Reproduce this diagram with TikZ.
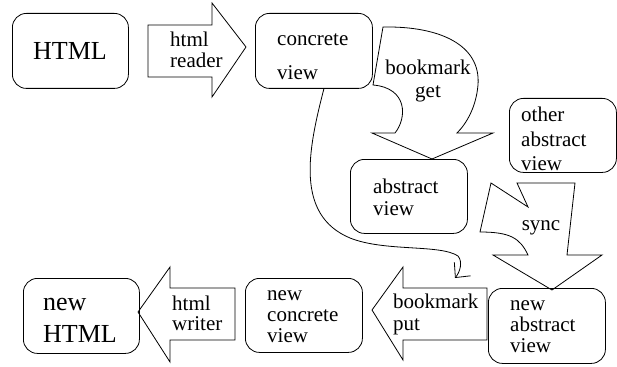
\documentclass[tikz,border=0pt]{standalone}
\usepackage{fontspec}
\setmainfont{Liberation Serif}
\usetikzlibrary{arrows.meta}
\tikzset{
  box/.style={draw, line width=0.8pt, rounded corners=14pt, inner sep=0pt, anchor=north west},
  blockarrow/.style={draw, line width=0.8pt, line join=miter},
  txt/.style={inner sep=0pt, align=left, anchor=base west, font=\rmfamily\fontsize{21}{21}\selectfont},
  bigtxt/.style={inner sep=0pt, align=left, anchor=base west, font=\rmfamily\fontsize{26}{32}\selectfont},
  link/.style={draw, line width=0.8pt, arrows={-Straight Barb[length=11pt,width=21pt,arc=80]}}
}
\begin{document}
\begin{tikzpicture}[x=1pt,y=-1pt]
\useasboundingbox (0,0) rectangle (617,366);

% boxes
\node[box, minimum width=116pt, minimum height=75pt] (html) at (12,13) {};
\node[box, minimum width=117pt, minimum height=75pt] (cv) at (255,13) {};
\node[box, minimum width=107pt, minimum height=74pt] (oav) at (509,98) {};
\node[box, minimum width=117pt, minimum height=74pt] (av) at (350,159) {};
\node[box, minimum width=117pt, minimum height=75pt] (nav) at (488,288) {};
\node[box, minimum width=117pt, minimum height=74pt] (ncv) at (245,278) {};
\node[box, minimum width=116pt, minimum height=75pt] (nhtml) at (23,278) {};

% box texts (anchored at the baseline of the last line)
\node[bigtxt, anchor=base] (htmlt) at (70,60) {HTML};
\node[txt, font=\rmfamily\fontsize{21}{34}\selectfont] (cvt) at (277,80) {concrete\\view};
\node[txt, font=\rmfamily\fontsize{21}{24}\selectfont] (oavt) at (521,170) {other\\abstract\\view};
\node[txt, font=\rmfamily\fontsize{21}{22}\selectfont] (avt) at (373,215) {abstract\\view};
\node[txt] (navt) at (510,352) {new\\abstract\\view};
\node[txt] (ncvt) at (267,342) {new\\concrete\\view};
\node[bigtxt] (nhtmlt) at (43,342) {new\\HTML};

% html reader arrow
\path[blockarrow] (148,25) -- (212,25) -- (212,3) -- (246,47) -- (212,97) -- (212,77) -- (148,77) -- cycle;
\node[txt] (reader) at (170,68) {html\\reader};

% bookmark get arrow
\path[blockarrow] (383,27) .. controls (440,26) and (481,45) .. (478,85)
  .. controls (476,108) and (466,124) .. (457,133) -- (493,133) -- (432,159) -- (372,133) -- (395,133)
  .. controls (407,118) and (408,88) .. (373,85) -- cycle;
\node[txt, align=center, anchor=base, font=\rmfamily\fontsize{21}{23}\selectfont] (bget) at (428,98) {bookmark\\get};

% sync arrow
\path[blockarrow] (491,183) -- (528,207) -- (517,183) -- (575,183) -- (567,255) -- (602,255) -- (552,290) -- (493,255) -- (528,255)
  .. controls (520,238) and (510,232) .. (480,232) -- cycle;
\node[txt, anchor=base] (sync) at (541,230) {sync};

% bookmark put arrow
\path[blockarrow] (487,288) -- (403,288) -- (403,267) -- (372,310) -- (403,360) -- (403,340) -- (487,340) -- cycle;
\node[txt, font=\rmfamily\fontsize{21}{22}\selectfont] (bput) at (393,330) {bookmark\\put};

% html writer arrow
\path[blockarrow] (235,288) -- (170,288) -- (170,267) -- (138,312) -- (170,362) -- (170,340) -- (235,340) -- cycle;
\node[txt, font=\rmfamily\fontsize{21}{20}\selectfont] (writer) at (172,330) {html\\writer};

% curved connector
\coordinate (tipend) at (455,278);
\draw[link] (cv.south) ++(10,0) coordinate (cvs) (cvs)
  .. controls (308,150) and (295,215) .. (350,238)
  .. controls (385,252) and (440,244) .. (458,256)
  .. controls (463,262) and (460,272) .. (tipend);
\end{tikzpicture}
\end{document}
